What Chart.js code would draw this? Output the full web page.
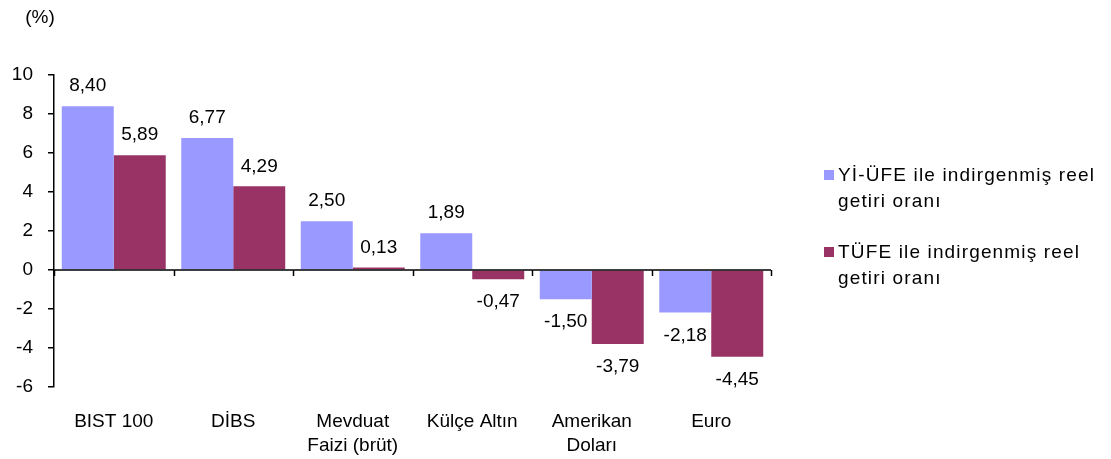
<!DOCTYPE html>
<html>
<head>
<meta charset="utf-8">
<script src="https://cdn.jsdelivr.net/npm/chart.js@4.4.1/dist/chart.umd.min.js"></script>
<style>
  body { margin: 0; background: #fff; }
  #wrap { position: relative; width: 1111px; height: 459px; }
  #legend { position: absolute; left: 824px; top: 162px; font-family: 'Liberation Sans', Arial, sans-serif; font-size: 19px; letter-spacing: 1.15px; color: #000; }
  .item { position: relative; padding-left: 14px; line-height: 26px; margin-bottom: 25px; white-space: nowrap; }
  .box { position: absolute; left: 0; top: 8px; width: 10px; height: 10px; }
</style>
</head>
<body>
<div id="wrap">
  <canvas id="chart" width="1111" height="459"></canvas>
  <div id="legend"></div>
</div>
<script>
const categories = ['BIST 100', 'DİBS', ['Mevduat', 'Faizi (brüt)'], 'Külçe Altın', ['Amerikan', 'Doları'], 'Euro'];
const yiUfeValues = [8.40, 6.77, 2.50, 1.89, -1.50, -2.18];
const tufeValues = [5.89, 4.29, 0.13, -0.47, -3.79, -4.45];
const seriesNames = [['Yİ-ÜFE ile indirgenmiş reel', 'getiri oranı'], ['TÜFE ile indirgenmiş reel', 'getiri oranı']];
const seriesColors = ['#9999FF', '#993366'];
const yTicks = [-6, -4, -2, 0, 2, 4, 6, 8, 10];

const fontFamily = "'Liberation Sans', Arial, sans-serif";

// eksen çizgisi (0) ve kategori araları için küçük çentikler
const zeroAxisPlugin = {
  id: 'zeroAxis',
  afterDatasetsDraw(chart) {
    const ctx = chart.ctx;
    const x = chart.scales.x;
    const y0 = chart.scales.y.getPixelForValue(0);
    ctx.save();
    ctx.strokeStyle = '#000';
    ctx.lineWidth = 1.5;
    ctx.beginPath();
    ctx.moveTo(x.left, y0);
    ctx.lineTo(x.right, y0);
    const step = (x.right - x.left) / categories.length;
    for (let i = 0; i <= categories.length; i++) {
      const px = Math.round(x.left + i * step) + 0.5;
      ctx.moveTo(px, y0);
      ctx.lineTo(px, y0 + 6);
    }
    ctx.stroke();
    ctx.restore();
  },
};

// değer etiketleri
const valueLabelsPlugin = {
  id: 'valueLabels',
  afterDatasetsDraw(chart) {
    const ctx = chart.ctx;
    ctx.save();
    ctx.font = '19px ' + fontFamily;
    ctx.fillStyle = '#000';
    ctx.textAlign = 'center';
    ctx.textBaseline = 'middle';
    chart.data.datasets.forEach((ds, di) => {
      chart.getDatasetMeta(di).data.forEach((bar, i) => {
        const v = ds.data[i];
        const txt = v.toFixed(2).replace('.', ',');
        const py = v >= 0 ? bar.y - 20 : bar.y + 23;
        ctx.fillText(txt, bar.x, py);
      });
    });
    ctx.fillText('(%)', 40, 18);
    ctx.restore();
  },
};

const chart = new Chart(document.getElementById('chart'), {
  type: 'bar',
  data: {
    labels: categories,
    datasets: [
      { label: seriesNames[0], data: yiUfeValues, backgroundColor: seriesColors[0], barPercentage: 1.0, categoryPercentage: 0.87 },
      { label: seriesNames[1], data: tufeValues, backgroundColor: seriesColors[1], barPercentage: 1.0, categoryPercentage: 0.87 },
    ],
  },
  options: {
    responsive: false,
    animation: false,
    layout: { padding: { left: 0, right: 340, top: 75, bottom: 0 } },
    plugins: {
      legend: { display: false },
      tooltip: { enabled: false },
    },
    scales: {
      x: {
        grid: { display: false, drawTicks: false },
        border: { display: false },
        afterFit: (axis) => { axis.height = 72; },
        ticks: {
          color: '#000',
          padding: 22,
          maxRotation: 0,
          font: { family: fontFamily, size: 19, lineHeight: 1.3 },
        },
      },
      y: {
        min: -6,
        max: 10,
        afterBuildTicks: (axis) => { axis.ticks = yTicks.map((v) => ({ value: v })); },
        afterFit: (axis) => { axis.width = 54; },
        grid: { drawOnChartArea: false, color: '#000', tickLength: 6, lineWidth: 1.5 },
        border: { display: true, color: '#000', width: 1.5 },
        ticks: {
          color: '#000',
          padding: 15,
          font: { family: fontFamily, size: 19 },
        },
      },
    },
  },
  plugins: [zeroAxisPlugin, valueLabelsPlugin],
});

const legendEl = document.getElementById('legend');
chart.data.datasets.forEach((ds) => {
  const item = document.createElement('div');
  item.className = 'item';
  item.innerHTML = '<span class="box" style="background:' + ds.backgroundColor + '"></span>' + ds.label.join('<br>');
  legendEl.appendChild(item);
});
</script>
</body>
</html>
